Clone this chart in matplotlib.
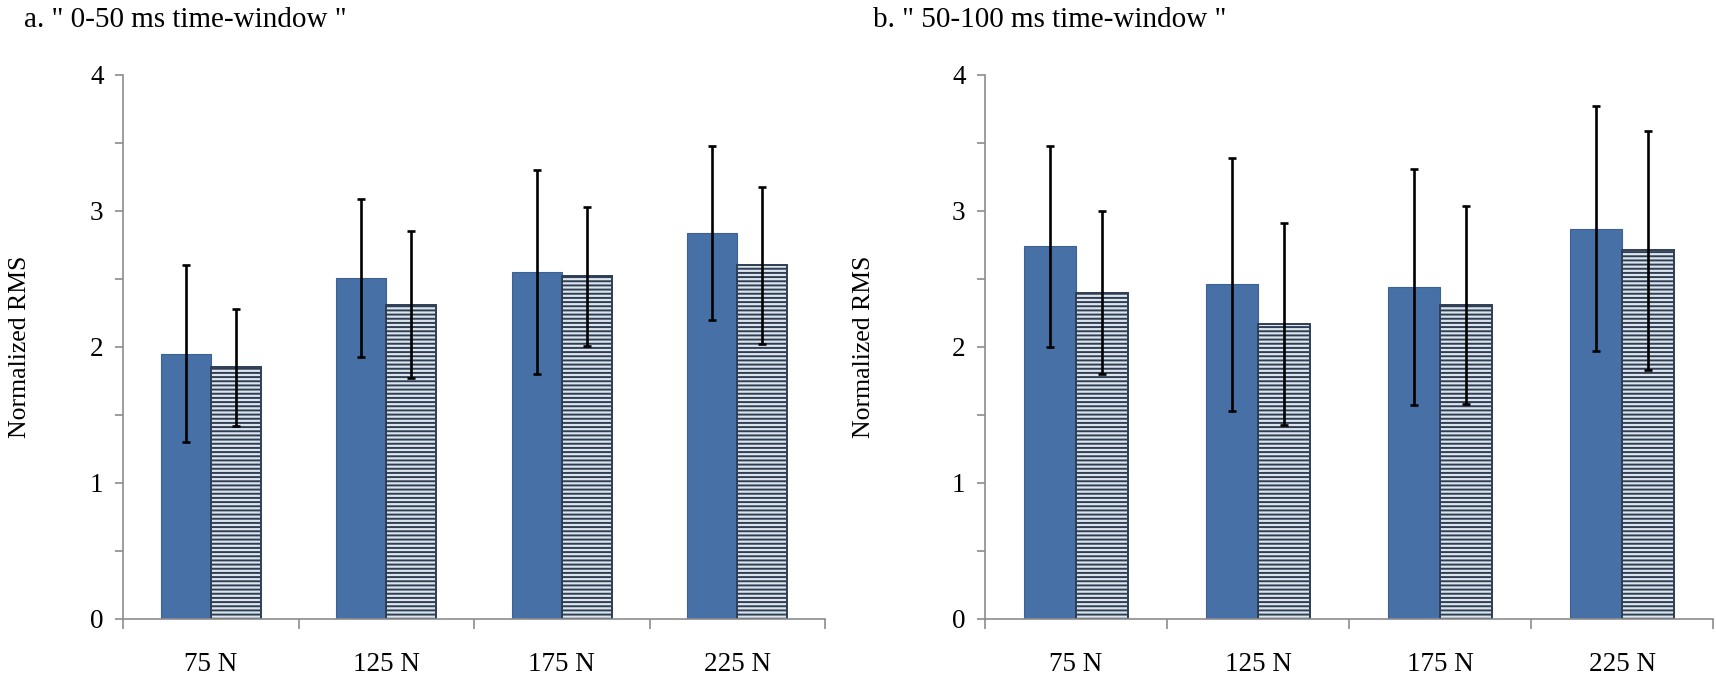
import numpy as np
import matplotlib
matplotlib.use("Agg")
import matplotlib.pyplot as plt

plt.rcParams['font.family'] = 'Liberation Serif'
plt.rcParams['hatch.linewidth'] = 1.4

categories = ['75 N', '125 N', '175 N', '225 N']

# panel a: 0-50 ms
a_solid = [1.95, 2.51, 2.55, 2.84]
a_solid_err = [0.65, 0.58, 0.75, 0.64]
a_hatch = [1.85, 2.31, 2.52, 2.60]
a_hatch_err = [0.43, 0.54, 0.51, 0.58]

# panel b: 50-100 ms
b_solid = [2.74, 2.46, 2.44, 2.87]
b_solid_err = [0.74, 0.93, 0.87, 0.90]
b_hatch = [2.40, 2.17, 2.31, 2.71]
b_hatch_err = [0.60, 0.74, 0.73, 0.88]

titles = ['a. " 0-50 ms time-window "', 'b. " 50-100 ms time-window "']

fig = plt.figure(figsize=(17.16, 6.74), dpi=100)
ax1 = fig.add_axes([123/1716, 55/674, 702/1716, 544/674])
ax2 = fig.add_axes([985/1716, 55/674, 728/1716, 544/674])

x = np.arange(len(categories))
w = 0.285
axcol = '#8c8c8c'

def draw(ax, solid, solid_err, hatch, hatch_err, labx):
    ax.bar(x - w/2, solid, w, color='#4670a6', edgecolor='#3d6292', linewidth=0.8)
    ax.bar(x + w/2, hatch, w, color='#dde4ec', edgecolor='#2e3f55', hatch='----', linewidth=1.4)
    ax.errorbar(x - w/2, solid, yerr=solid_err, fmt='none', ecolor='black',
                elinewidth=1.9, capsize=3, capthick=1.9)
    ax.errorbar(x + w/2, hatch, yerr=hatch_err, fmt='none', ecolor='black',
                elinewidth=1.9, capsize=3, capthick=1.9)
    ax.set_xlim(-0.5, 3.5)
    ax.set_ylim(0, 4)
    ax.set_xticks(x)
    ax.set_xticklabels(categories, fontsize=19.5)
    ax.set_xticks(np.arange(-0.5, 4.0, 1.0), minor=True)
    ax.tick_params(axis='x', which='major', length=0, pad=24)
    ax.tick_params(axis='x', which='minor', length=7, color=axcol, width=1.2)
    ax.set_yticks([0, 1, 2, 3, 4])
    ax.set_yticklabels(['0', '1', '2', '3', '4'], fontsize=19.5)
    ax.set_yticks(np.arange(0.5, 4, 1.0), minor=True)
    ax.tick_params(axis='y', which='both', length=6, color=axcol, width=1.2, pad=8)
    for s in ['top', 'right']:
        ax.spines[s].set_visible(False)
    for s in ['left', 'bottom']:
        ax.spines[s].set_color(axcol)
        ax.spines[s].set_linewidth(1.2)
    ax.set_ylabel('Normalized RMS', fontsize=18.5)
    ax.yaxis.set_label_coords(labx, 0.5)

draw(ax1, a_solid, a_solid_err, a_hatch, a_hatch_err, -0.131)
draw(ax2, b_solid, b_solid_err, b_hatch, b_hatch_err, -0.151)

fig.text(24/1716, 1 - 20/674, titles[0], fontsize=21, va='center', ha='left')
fig.text(873/1716, 1 - 20/674, titles[1], fontsize=21, va='center', ha='left')

fig.savefig('out.png', dpi=100)
